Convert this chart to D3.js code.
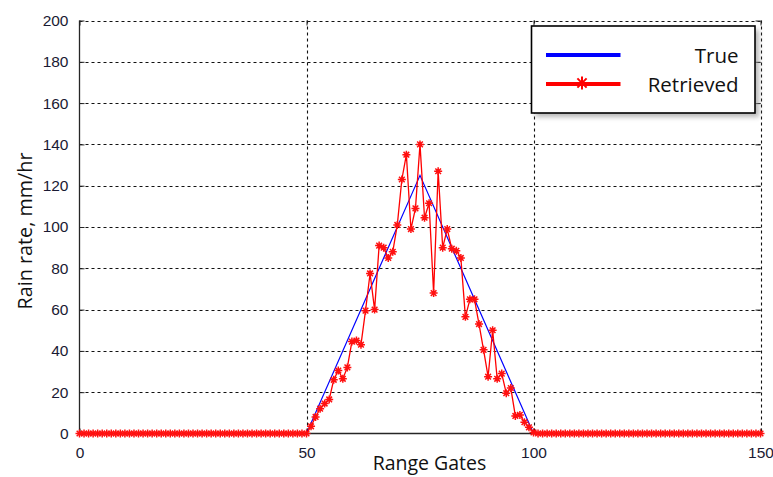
<!DOCTYPE html>
<html>
<head>
<meta charset="utf-8">
<script src="https://cdn.jsdelivr.net/npm/d3@7"></script>
<style>
  html, body { margin: 0; padding: 0; background: #fff; }
  svg { display: block; }
</style>
</head>
<body>
<svg id="chart" width="773" height="477"></svg>
<script>
// ---- data ----
const gates = [
  0,1,2,3,4,5,6,7,8,9,10,11,12,13,14,15,16,17,18,19,20,21,22,23,24,25,26,27,28,29,
  30,31,32,33,34,35,36,37,38,39,40,41,42,43,44,45,46,47,48,49,50,51,52,53,54,55,56,57,58,59,
  60,61,62,63,64,65,66,67,68,69,70,71,72,73,74,75,76,77,78,79,80,81,82,83,84,85,86,87,88,89,
  90,91,92,93,94,95,96,97,98,99,100,101,102,103,104,105,106,107,108,109,110,111,112,113,114,115,116,117,118,119,
  120,121,122,123,124,125,126,127,128,129,130,131,132,133,134,135,136,137,138,139,140,141,142,143,144,145,146,147,148,149,150
];
const retrieved = [
  0,0,0,0,0,0,0,0,0,0,0,0,0,0,0,0,0,0,0,0,0,0,0,0,0,0,0,0,0,0,
  0,0,0,0,0,0,0,0,0,0,0,0,0,0,0,0,0,0,0,0,0,3.5,8,12,14.5,16.5,26,30.5,26.5,32,
  44.5,45,43,59.5,77.5,60,91,90,85,88,101,123,135,99,109,140,104.5,111.5,68,127,90,99,89.5,88.5,85,56.5,65,65,53,40.5,
  27.5,50,26.5,29,19.5,22,8.5,9,5.5,3,0.5,0,0,0,0,0,0,0,0,0,0,0,0,0,0,0,0,0,0,0,
  0,0,0,0,0,0,0,0,0,0,0,0,0,0,0,0,0,0,0,0,0,0,0,0,0,0,0,0,0,0,0
];
const trueGates = [0, 50, 75, 100, 150];
const trueValues = [0, 0, 125, 0, 0];
const xTicks = [0, 50, 100, 150];
const yTicks = [0, 20, 40, 60, 80, 100, 120, 140, 160, 180, 200];
const seriesNames = ["True", "Retrieved"];
const xTitle = "Range Gates";
const yTitle = "Rain rate, mm/hr";

// ---- layout ----
const svg = d3.select("#chart");
const L = 79.5, R = 760.5, T = 20.5, B = 433.5;
const x = d3.scaleLinear().domain([0, 150]).range([L, R]);
const y = d3.scaleLinear().domain([0, 200]).range([B, T]);
const axisColor = "#262626";
const labelColor = "#1a1a33";

// drop shadow filter
const defs = svg.append("defs");
const f = defs.append("filter").attr("id", "shadow").attr("x", "-10%").attr("y", "-10%").attr("width", "130%").attr("height", "140%");
f.append("feGaussianBlur").attr("stdDeviation", 2.5);

// grid
const grid = svg.append("g").attr("stroke", "#111").attr("stroke-width", 1.1).attr("stroke-dasharray", "3,3").attr("fill", "none");
grid.selectAll("line.h").data(yTicks.filter(d => d > 0)).join("line")
  .attr("x1", L).attr("x2", R).attr("y1", d => Math.round(y(d)) + 0.5).attr("y2", d => Math.round(y(d)) + 0.5);
grid.selectAll("line.v").data(xTicks.filter(d => d > 0)).join("line")
  .attr("y1", T).attr("y2", B).attr("x1", d => Math.round(x(d)) + 0.5).attr("x2", d => Math.round(x(d)) + 0.5);

// axes (left & bottom solid, inward ticks)
const yAxis = d3.axisLeft(y).tickValues(yTicks).tickSize(-5).tickPadding(11).tickFormat(d3.format("d"));
const xAxis = d3.axisBottom(x).tickValues(xTicks).tickSize(-5).tickPadding(13).tickFormat(d3.format("d"));
const gy = svg.append("g").attr("transform", `translate(${L},0)`).call(yAxis);
const gx = svg.append("g").attr("transform", `translate(0,${B})`).call(xAxis);
// right & top inward ticks
const gyr = svg.append("g").attr("transform", `translate(${R},0)`).call(d3.axisRight(y).tickValues(yTicks).tickSize(-5).tickFormat(""));
const gxt = svg.append("g").attr("transform", `translate(0,${T})`).call(d3.axisTop(x).tickValues(xTicks).tickSize(-5).tickFormat(""));
gyr.select(".domain").remove();
gxt.select(".domain").remove();
[gy, gx, gyr, gxt].forEach(g => {
  g.selectAll(".domain").attr("stroke", axisColor).attr("stroke-width", 1.3);
  g.selectAll(".tick line").attr("stroke", axisColor).attr("stroke-width", 1);
  g.selectAll(".tick text").attr("fill", labelColor)
    .style("font-family", "'Liberation Sans', Arial, sans-serif").style("font-size", "15.5px");
});
gy.select(".domain").attr("d", `M0,${T}V${B}`);
gx.select(".domain").attr("d", `M${L},0H${R}`);

// true line
const trueData = trueGates.map((g, i) => [g, trueValues[i]]);
svg.append("path").datum(trueData)
  .attr("fill", "none").attr("stroke", "#0000ff").attr("stroke-width", 1.2)
  .attr("d", d3.line().x(d => x(d[0])).y(d => y(d[1])));

// retrieved line + markers
const retData = gates.map((g, i) => [g, retrieved[i]]);
svg.append("path").datum(retData)
  .attr("fill", "none").attr("stroke", "#ff0000").attr("stroke-width", 1.3)
  .attr("d", d3.line().x(d => x(d[0])).y(d => y(d[1])));
function star(s) {
  const d = s * 0.7071;
  return `M0,${-s}V${s}M${-s},0H${s}M${-d},${-d}L${d},${d}M${-d},${d}L${d},${-d}`;
}
svg.append("g").selectAll("path").data(retData).join("path")
  .attr("transform", d => `translate(${x(d[0])},${y(d[1])})`)
  .attr("d", star(4)).attr("fill", "none").attr("stroke", "#ff1010").attr("stroke-width", 1.5);

// axis titles
svg.append("text").attr("x", 429.5).attr("y", 470)
  .attr("text-anchor", "middle").attr("fill", "#111")
  .style("font-family", "'Open Sans', sans-serif").style("font-size", "19.5px")
  .text(xTitle);
svg.append("text").attr("transform", "translate(32,231) rotate(-90)")
  .attr("text-anchor", "middle").attr("fill", "#111")
  .style("font-family", "'Open Sans', sans-serif").style("font-size", "19.8px")
  .text(yTitle);

// legend
const lg = svg.append("g");
const lx = 531.5, ly = 26, lw = 223.5, lh = 87;
lg.append("rect").attr("x", lx + 4).attr("y", ly + 4).attr("width", lw).attr("height", lh)
  .attr("fill", "#888").attr("opacity", 0.6).attr("filter", "url(#shadow)");
lg.append("rect").attr("x", lx).attr("y", ly).attr("width", lw).attr("height", lh)
  .attr("fill", "#fff").attr("stroke", "#000").attr("stroke-width", 1.6);
const legendColors = ["#0000ff", "#ff0000"];
const legendY = [55, 84];
seriesNames.forEach((name, i) => {
  lg.append("line").attr("x1", 546).attr("x2", 620.5).attr("y1", legendY[i]).attr("y2", legendY[i])
    .attr("stroke", legendColors[i]).attr("stroke-width", 4);
  if (i === 1) {
    lg.append("path").attr("transform", `translate(582,${legendY[i] - 1})`)
      .attr("d", star(6.5)).attr("fill", "none").attr("stroke", "#ff0000").attr("stroke-width", 2);
  }
  lg.append("text").attr("x", 738.5).attr("y", legendY[i] + 7.5).attr("text-anchor", "end")
    .attr("fill", "#111").style("font-family", "'Open Sans', sans-serif").style("font-size", "20.5px")
    .text(name);
});
</script>
</body>
</html>
